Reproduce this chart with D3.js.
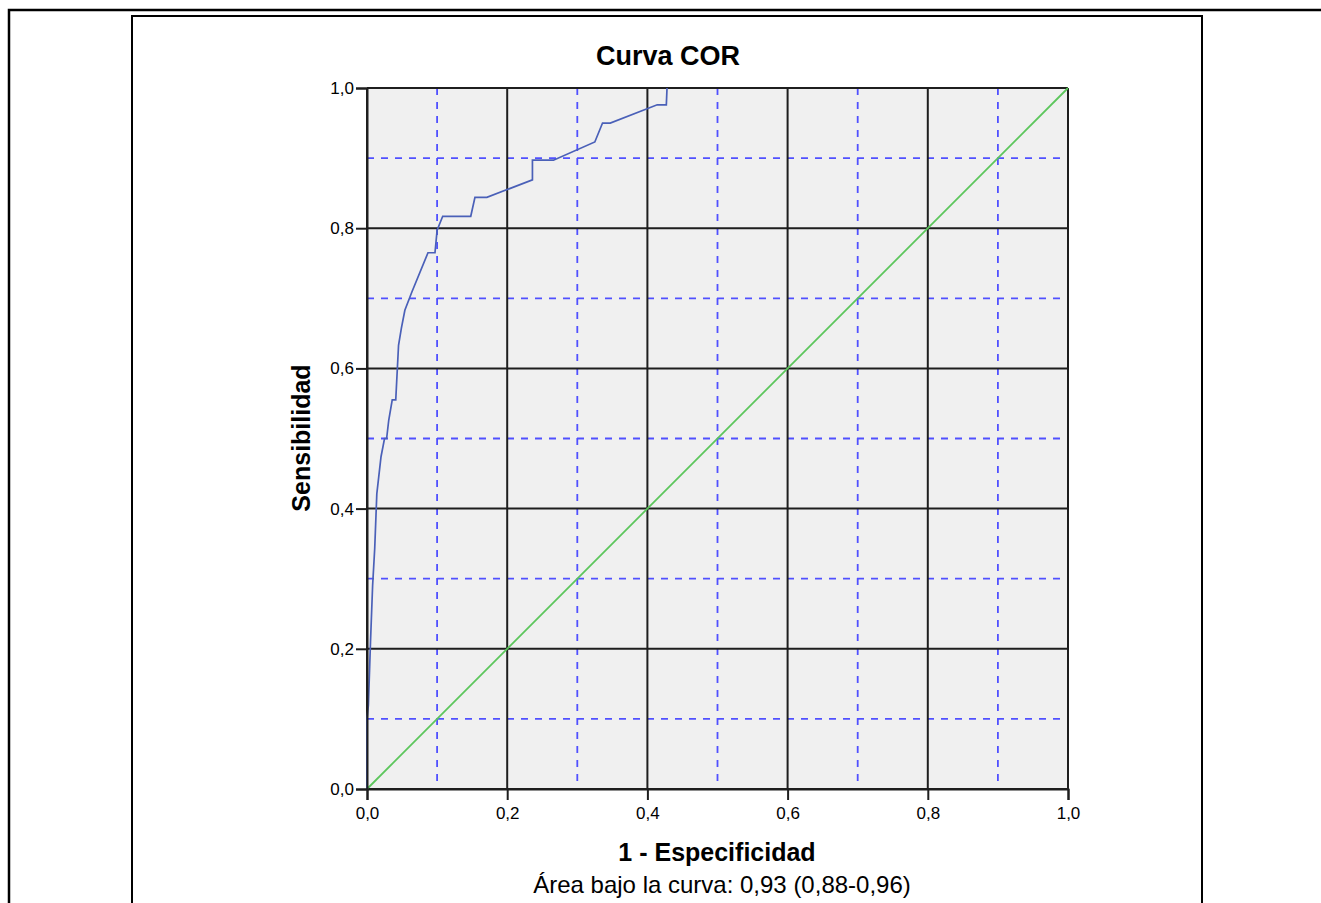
<!DOCTYPE html>
<html>
<head>
<meta charset="utf-8">
<script src="https://cdn.jsdelivr.net/npm/d3@7"></script>
<style>
  html, body { margin: 0; padding: 0; background: #fff; }
  svg { display: block; }
  text { font-family: "Liberation Sans", Arial, sans-serif; fill: #000; }
</style>
</head>
<body>
<svg id="chart" width="1321" height="903"></svg>
<script>
// ROC curve: false positive rate (1 - especificidad) vs. sensibilidad
const fpr = [0, 0, 0.002, 0.005, 0.008, 0.011, 0.014, 0.020, 0.025, 0.028, 0.031, 0.036, 0.041,
             0.045, 0.049, 0.054, 0.064, 0.087, 0.097, 0.100, 0.108, 0.148, 0.154, 0.171,
             0.236, 0.236, 0.266, 0.325, 0.336, 0.347, 0.414, 0.427, 0.428];
const tpr = [0, 0.100, 0.120, 0.210, 0.290, 0.343, 0.421, 0.474, 0.500, 0.500, 0.526, 0.555, 0.555,
             0.633, 0.657, 0.683, 0.709, 0.765, 0.765, 0.797, 0.817, 0.817, 0.844, 0.844,
             0.869, 0.897, 0.897, 0.923, 0.950, 0.950, 0.976, 0.976, 1.0];
// reference line
const refX = [0, 1];
const refY = [0, 1];
const majorTicks = [0, 0.2, 0.4, 0.6, 0.8, 1.0];
const minorTicks = [0.1, 0.3, 0.5, 0.7, 0.9];
const titleText = "Curva COR";
const xLabel = "1 - Especificidad";
const yLabel = "Sensibilidad";
const footnote = "Área bajo la curva: 0,93 (0,88-0,96)";

const svg = d3.select("#chart");
const fmt = d => d3.format(".1f")(d).replace(".", ",");

// outer frame and chart box
svg.append("path").attr("d", "M9,903 L9,10 L1321,10").attr("fill", "none")
  .attr("stroke", "#000").attr("stroke-width", 2.5);
svg.append("path").attr("d", "M132,903 L132,16 L1202,16 L1202,903").attr("fill", "none")
  .attr("stroke", "#000").attr("stroke-width", 2);

const plotL = 367, plotR = 1068, plotT = 88, plotB = 789;
const x = d3.scaleLinear().domain([0, 1]).range([plotL, plotR]);
const y = d3.scaleLinear().domain([0, 1]).range([plotB, plotT]);

svg.append("rect").attr("x", plotL).attr("y", plotT)
  .attr("width", plotR - plotL).attr("height", plotB - plotT).attr("fill", "#f0f0f0");

const grid = svg.append("g");
// minor dashed grid
minorTicks.forEach(t => {
  grid.append("line").attr("x1", x(t)).attr("x2", x(t)).attr("y1", plotT).attr("y2", plotB)
    .attr("stroke", "#5050ff").attr("stroke-width", 1.8).attr("stroke-dasharray", "7,7");
  grid.append("line").attr("x1", plotL).attr("x2", plotR).attr("y1", y(t)).attr("y2", y(t))
    .attr("stroke", "#5050ff").attr("stroke-width", 1.8).attr("stroke-dasharray", "7,7");
});
// major solid grid
majorTicks.forEach(t => {
  grid.append("line").attr("x1", x(t)).attr("x2", x(t)).attr("y1", plotT).attr("y2", plotB)
    .attr("stroke", "#1e1e1e").attr("stroke-width", 2);
  grid.append("line").attr("x1", plotL).attr("x2", plotR).attr("y1", y(t)).attr("y2", y(t))
    .attr("stroke", "#1e1e1e").attr("stroke-width", 2);
});

// reference diagonal
svg.append("path")
  .datum(refX.map((v, i) => [v, refY[i]]))
  .attr("d", d3.line().x(d => x(d[0])).y(d => y(d[1])))
  .attr("fill", "none").attr("stroke", "#5cc65c").attr("stroke-width", 1.8);

// ROC curve
svg.append("path")
  .datum(fpr.map((v, i) => [v, tpr[i]]))
  .attr("d", d3.line().x(d => x(d[0])).y(d => y(d[1])))
  .attr("fill", "none").attr("stroke", "#4a60b8").attr("stroke-width", 1.7);

// axes
const xAxis = svg.append("g").attr("transform", `translate(0,${plotB})`)
  .call(d3.axisBottom(x).tickValues(majorTicks).tickFormat(fmt).tickSize(11).tickPadding(7));
const yAxis = svg.append("g").attr("transform", `translate(${plotL},0)`)
  .call(d3.axisLeft(y).tickValues(majorTicks).tickFormat(fmt).tickSize(11).tickPadding(2));
[xAxis, yAxis].forEach(a => {
  a.select(".domain").attr("stroke", "#1e1e1e").attr("stroke-width", 2);
  a.selectAll(".tick line").attr("stroke", "#1e1e1e").attr("stroke-width", 2);
  a.selectAll("text").attr("font-size", 17).attr("fill", "#222")
    .style("font-family", "'Liberation Sans', Arial, sans-serif");
});

// titles
svg.append("text").attr("x", 668).attr("y", 65).attr("text-anchor", "middle")
  .attr("font-size", 27).attr("font-weight", "bold").text(titleText);
svg.append("text").attr("x", 717).attr("y", 861).attr("text-anchor", "middle")
  .attr("font-size", 25).attr("font-weight", "bold").text(xLabel);
svg.append("text").attr("x", 722).attr("y", 893).attr("text-anchor", "middle")
  .attr("font-size", 24).attr("fill", "#333").text(footnote);
svg.append("text").attr("transform", "translate(310,438) rotate(-90)")
  .attr("text-anchor", "middle").attr("font-size", 25).attr("font-weight", "bold").text(yLabel);
</script>
</body>
</html>
